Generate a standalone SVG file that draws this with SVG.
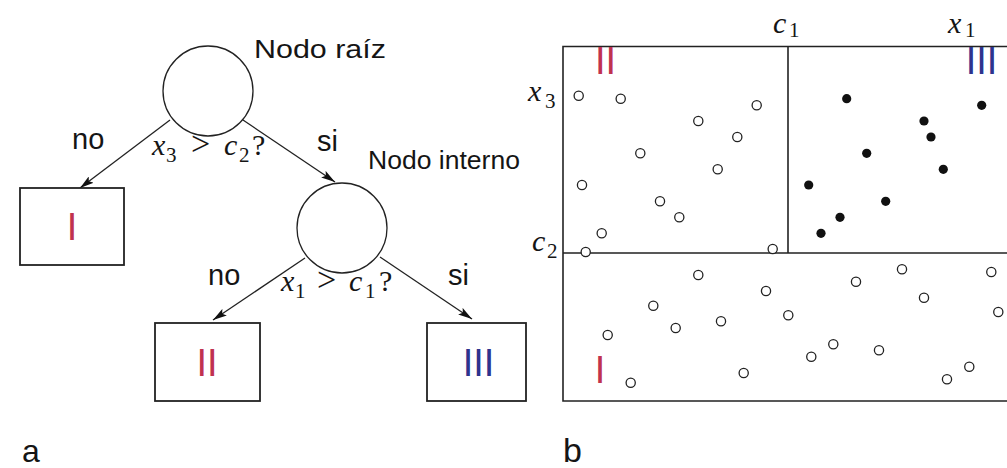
<svg xmlns="http://www.w3.org/2000/svg" width="1007" height="468" viewBox="0 0 1007 468">
<defs>
<style>
.sans{font-family:"Liberation Sans",Arial,sans-serif;fill:#151515}
.math{font-family:"Liberation Serif","Times New Roman",serif;fill:#151515}
.it{font-style:italic}
.num{font-family:"Liberation Sans",Arial,sans-serif;font-size:38px;text-anchor:middle}
.red{fill:#c0324f}
.blue{fill:#2e338e}
.node{fill:#fff;stroke:#222;stroke-width:1.3}
.box{fill:#fff;stroke:#222;stroke-width:1.8}
.edge{stroke:#222;stroke-width:1.3;fill:none;marker-end:url(#ah)}
.oc{fill:#fff;stroke:#222;stroke-width:1.3}
.fc{fill:#111}
.frame{fill:none;stroke:#222;stroke-width:1.6}
</style>
<marker id="ah" viewBox="0 0 14 8" refX="14" refY="4" markerWidth="14" markerHeight="8" markerUnits="userSpaceOnUse" orient="auto">
<path d="M0,0 L14,4 L0,8 L3,4 Z" fill="#111"/>
</marker>
</defs>
<rect width="1007" height="468" fill="#fff"/>

<g id="connectors">
<line class="edge" x1="170" y1="120" x2="80" y2="188"/>
<line class="edge" x1="243" y1="120" x2="335" y2="182"/>
<line class="edge" x1="305" y1="258" x2="213" y2="320"/>
<line class="edge" x1="380" y1="257" x2="472" y2="319"/>
</g>

<g id="root">
<circle class="node" cx="208" cy="91" r="45"/>
<text class="sans" x="254" y="58" font-size="26" textLength="132" lengthAdjust="spacingAndGlyphs">Nodo raíz</text>
</g>
<g id="root-test">
<text class="math" font-size="30"><tspan class="it" x="152" y="155">x</tspan><tspan x="166" y="162" font-size="21">3</tspan><tspan x="191" y="155" font-size="34">&gt;</tspan><tspan class="it" x="224" y="155">c</tspan><tspan x="239" y="162" font-size="21">2</tspan><tspan x="252" y="155">?</tspan></text>
</g>
<g id="root-no"><text class="sans" x="72" y="149" font-size="29">no</text></g>
<g id="root-si"><text class="sans" x="317" y="151" font-size="29">si</text></g>

<g id="internal">
<circle class="node" cx="342" cy="228" r="45"/>
<text class="sans" x="368" y="169" font-size="26" textLength="152" lengthAdjust="spacingAndGlyphs">Nodo interno</text>
</g>
<g id="internal-test">
<text class="math" font-size="30"><tspan class="it" x="281" y="291">x</tspan><tspan x="295" y="298" font-size="21">1</tspan><tspan x="317" y="291" font-size="34">&gt;</tspan><tspan class="it" x="349" y="291">c</tspan><tspan x="365" y="298" font-size="21">1</tspan><tspan x="379" y="291">?</tspan></text>
</g>
<g id="internal-no"><text class="sans" x="208" y="285" font-size="29">no</text></g>
<g id="internal-si"><text class="sans" x="448" y="285" font-size="29">si</text></g>

<g id="leaf-I">
<rect class="box" x="20" y="188" width="104" height="77"/>
<text class="num red" x="72" y="240">I</text>
</g>
<g id="leaf-II">
<rect class="box" x="155" y="323" width="105" height="78"/>
<text class="num red" x="207" y="376">II</text>
</g>
<g id="leaf-III">
<rect class="box" x="427" y="323" width="99" height="78"/>
<text class="num blue" x="478.5" y="376">III</text>
</g>

<text class="sans" x="22" y="462" font-size="32">a</text>
<text class="sans" x="563" y="462" font-size="34">b</text>

<!-- partition plot -->
<path class="frame" d="M1010,46.5 H563 V401 H1010 M788,46.5 V253 M563,253 H1010"/>
<text class="math" font-size="30"><tspan class="it" x="773" y="33">c</tspan><tspan x="789" y="37" font-size="21">1</tspan></text>
<text class="math" font-size="30"><tspan class="it" x="948" y="33">x</tspan><tspan x="965" y="37" font-size="21">1</tspan></text>
<text class="math" font-size="30"><tspan class="it" x="528" y="101">x</tspan><tspan x="545" y="108" font-size="21">3</tspan></text>
<text class="math" font-size="30"><tspan class="it" x="532" y="251">c</tspan><tspan x="547" y="258" font-size="21">2</tspan></text>
<text class="num red" x="605.5" y="74">II</text>
<text class="num blue" x="981.5" y="74">III</text>
<text class="num red" x="600" y="383">I</text>

<g id="open-points">
<circle class="oc" cx="578.7" cy="95.7" r="4.6"/>
<circle class="oc" cx="620.7" cy="98.7" r="4.6"/>
<circle class="oc" cx="756.7" cy="105.3" r="4.6"/>
<circle class="oc" cx="698.3" cy="121" r="4.6"/>
<circle class="oc" cx="737.3" cy="137" r="4.6"/>
<circle class="oc" cx="640.3" cy="153.3" r="4.6"/>
<circle class="oc" cx="717.7" cy="169.3" r="4.6"/>
<circle class="oc" cx="582" cy="185" r="4.6"/>
<circle class="oc" cx="660" cy="201.3" r="4.6"/>
<circle class="oc" cx="679.3" cy="217.3" r="4.6"/>
<circle class="oc" cx="601.7" cy="233.3" r="4.6"/>
<circle class="oc" cx="585.7" cy="252" r="4.6"/>
<circle class="oc" cx="772.7" cy="249" r="4.6"/>
<circle class="oc" cx="698.3" cy="275" r="4.6"/>
<circle class="oc" cx="902" cy="269.3" r="4.6"/>
<circle class="oc" cx="991.3" cy="272" r="4.6"/>
<circle class="oc" cx="856" cy="281.7" r="4.6"/>
<circle class="oc" cx="766" cy="291" r="4.6"/>
<circle class="oc" cx="924" cy="297.7" r="4.6"/>
<circle class="oc" cx="653.3" cy="305.7" r="4.6"/>
<circle class="oc" cx="998.3" cy="312" r="4.6"/>
<circle class="oc" cx="788.3" cy="315.3" r="4.6"/>
<circle class="oc" cx="675.7" cy="328" r="4.6"/>
<circle class="oc" cx="721" cy="321.3" r="4.6"/>
<circle class="oc" cx="607.7" cy="335" r="4.6"/>
<circle class="oc" cx="833.3" cy="344.3" r="4.6"/>
<circle class="oc" cx="879" cy="350.3" r="4.6"/>
<circle class="oc" cx="811.3" cy="356.7" r="4.6"/>
<circle class="oc" cx="969.3" cy="366.7" r="4.6"/>
<circle class="oc" cx="947" cy="379.3" r="4.6"/>
<circle class="oc" cx="743.7" cy="373" r="4.6"/>
<circle class="oc" cx="630.7" cy="382.7" r="4.6"/>
</g>
<g id="filled-points">
<circle class="fc" cx="846.7" cy="98.7" r="4.6"/>
<circle class="fc" cx="981.7" cy="105.3" r="4.6"/>
<circle class="fc" cx="924" cy="121" r="4.6"/>
<circle class="fc" cx="931" cy="137" r="4.6"/>
<circle class="fc" cx="866.7" cy="153.3" r="4.6"/>
<circle class="fc" cx="943.3" cy="169.3" r="4.6"/>
<circle class="fc" cx="808.7" cy="185" r="4.6"/>
<circle class="fc" cx="885.7" cy="201.3" r="4.6"/>
<circle class="fc" cx="840" cy="217.3" r="4.6"/>
<circle class="fc" cx="821" cy="233.3" r="4.6"/>
</g>
</svg>
